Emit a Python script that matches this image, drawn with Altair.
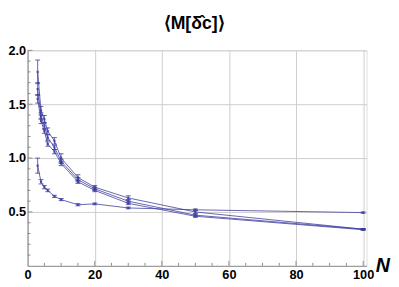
import altair as alt
import pandas as pd

# ---- data ----
N = [3, 4, 5, 6, 8, 10, 15, 20, 30, 50, 100]
series_names = ["s1", "s2", "s3", "s4"]
s1 = [0.93, 0.78, 0.73, 0.70, 0.645, 0.615, 0.567, 0.575, 0.537, 0.52, 0.494]
s2 = [1.80, 1.44, 1.36, 1.25, 1.16, 1.00, 0.82, 0.73, 0.63, 0.50, 0.34]
s3 = [1.64, 1.39, 1.30, 1.19, 1.10, 0.97, 0.80, 0.715, 0.60, 0.47, 0.34]
s4 = [1.55, 1.345, 1.25, 1.13, 1.06, 0.95, 0.78, 0.70, 0.58, 0.46, 0.335]
e1 = [0.07, 0.02, 0.015, 0.012, 0.01, 0.01, 0.01, 0.008, 0.008, 0.008, 0.006]
e2 = [0.11, 0.04, 0.035, 0.03, 0.03, 0.04, 0.025, 0.015, 0.02, 0.015, 0.006]
e3 = [0.06, 0.03, 0.03, 0.025, 0.02, 0.02, 0.02, 0.015, 0.015, 0.01, 0.006]
e4 = [0.04, 0.025, 0.02, 0.02, 0.02, 0.02, 0.015, 0.012, 0.012, 0.01, 0.005]

x_tick_labels = [0, 20, 40, 60, 80, 100]
y_tick_labels = [0.5, 1.0, 1.5, 2.0]
x_minor = [5, 10, 15, 25, 30, 35, 45, 50, 55, 65, 70, 75, 85, 90, 95]
x_major = [20, 40, 60, 80, 100]
y_minor = [0.1, 0.2, 0.3, 0.4, 0.6, 0.7, 0.8, 0.9, 1.1, 1.2, 1.3, 1.4, 1.6, 1.7, 1.8, 1.9]
y_major = [0.5, 1.0, 1.5, 2.0]

title_text = "\u27e8M[\u03b4\u0302c]\u27e9"

rows = []
for name, vals, errs in zip(series_names, [s1, s2, s3, s4], [e1, e2, e3, e4]):
    for n, v, e in zip(N, vals, errs):
        rows.append({"series": name, "N": n, "v": v, "lo": v - e, "hi": v + e})
df = pd.DataFrame(rows)

W, H = 346, 220
FONT = "Liberation Sans"
COL = "#3d3d9e"
AXC = "#8c8c8c"

xs = alt.Scale(domain=[0, 101], nice=False, zero=False)
ys = alt.Scale(domain=[0, 2], nice=False, zero=False)

x_axis = alt.Axis(values=x_tick_labels, grid=True, gridColor="#cdcdcd", gridWidth=1,
                  ticks=False, domainColor=AXC, labelFont=FONT, labelFontWeight="bold",
                  labelFontSize=13, labelColor="black", labelPadding=3, labelFlush=False,
                  title="N", titleFont=FONT, titleFontStyle="italic", titleFontWeight="bold",
                  titleFontSize=20, titleX=W + 9, titleY=6, titleAlign="left",
                  titleBaseline="alphabetic", titleColor="black")
y_axis = alt.Axis(values=y_tick_labels, format=".1f", grid=True, gridColor="#cdcdcd",
                  gridWidth=1, ticks=False, domainColor=AXC, labelFont=FONT,
                  labelFontWeight="bold", labelFontSize=13, labelColor="black",
                  labelPadding=2, labelFlush=False, title="")

base = alt.Chart(df)
X = alt.X("N:Q", scale=xs, axis=x_axis)
Y = alt.Y("v:Q", scale=ys, axis=y_axis)

lines = base.mark_line(color=COL, strokeWidth=1, opacity=0.8).encode(x=X, y=Y, detail="series:N")
bars = base.mark_rule(color=COL, strokeWidth=1, opacity=0.8).encode(
    x=X, y=alt.Y("lo:Q", scale=ys, axis=y_axis), y2="hi:Q")
cap_lo = base.mark_tick(color=COL, orient="horizontal", size=5, thickness=1, opacity=0.8).encode(
    x=X, y=alt.Y("lo:Q", scale=ys, axis=y_axis))
cap_hi = base.mark_tick(color=COL, orient="horizontal", size=5, thickness=1, opacity=0.8).encode(
    x=X, y=alt.Y("hi:Q", scale=ys, axis=y_axis))
pts = base.mark_point(color=COL, filled=True, shape="square", size=5, opacity=0.85).encode(x=X, y=Y)

ymin_df = pd.DataFrame({"t": y_minor})
ymaj_df = pd.DataFrame({"t": y_major})
xmin_df = pd.DataFrame({"t": x_minor})
xmaj_df = pd.DataFrame({"t": x_major})

yt1 = alt.Chart(ymin_df).mark_rule(color=AXC, strokeWidth=1).encode(
    y=alt.Y("t:Q", scale=ys, axis=y_axis), x=alt.value(0), x2=alt.value(3))
yt2 = alt.Chart(ymaj_df).mark_rule(color=AXC, strokeWidth=1).encode(
    y=alt.Y("t:Q", scale=ys, axis=y_axis), x=alt.value(0), x2=alt.value(5))
xt1 = alt.Chart(xmin_df).mark_rule(color=AXC, strokeWidth=1).encode(
    x=alt.X("t:Q", scale=xs, axis=x_axis), y=alt.value(H), y2=alt.value(H - 3))
xt2 = alt.Chart(xmaj_df).mark_rule(color=AXC, strokeWidth=1).encode(
    x=alt.X("t:Q", scale=xs, axis=x_axis), y=alt.value(H), y2=alt.value(H - 5))

chart = alt.layer(yt1, yt2, xt1, xt2, lines, bars, cap_lo, cap_hi, pts).properties(
    width=W, height=H,
    title=alt.TitleParams(text=title_text, font=FONT, fontSize=18, fontWeight="bold",
                          anchor="middle", dx=-3, offset=12, color="black"),
    padding={"left": 20, "top": 40.3, "right": 25, "bottom": 18.7},
    autosize=alt.AutoSizeParams(type="none"),
).configure_view(stroke=None).configure(background="white")

chart.save("out.html", embed_options={"renderer": "svg", "actions": False})
